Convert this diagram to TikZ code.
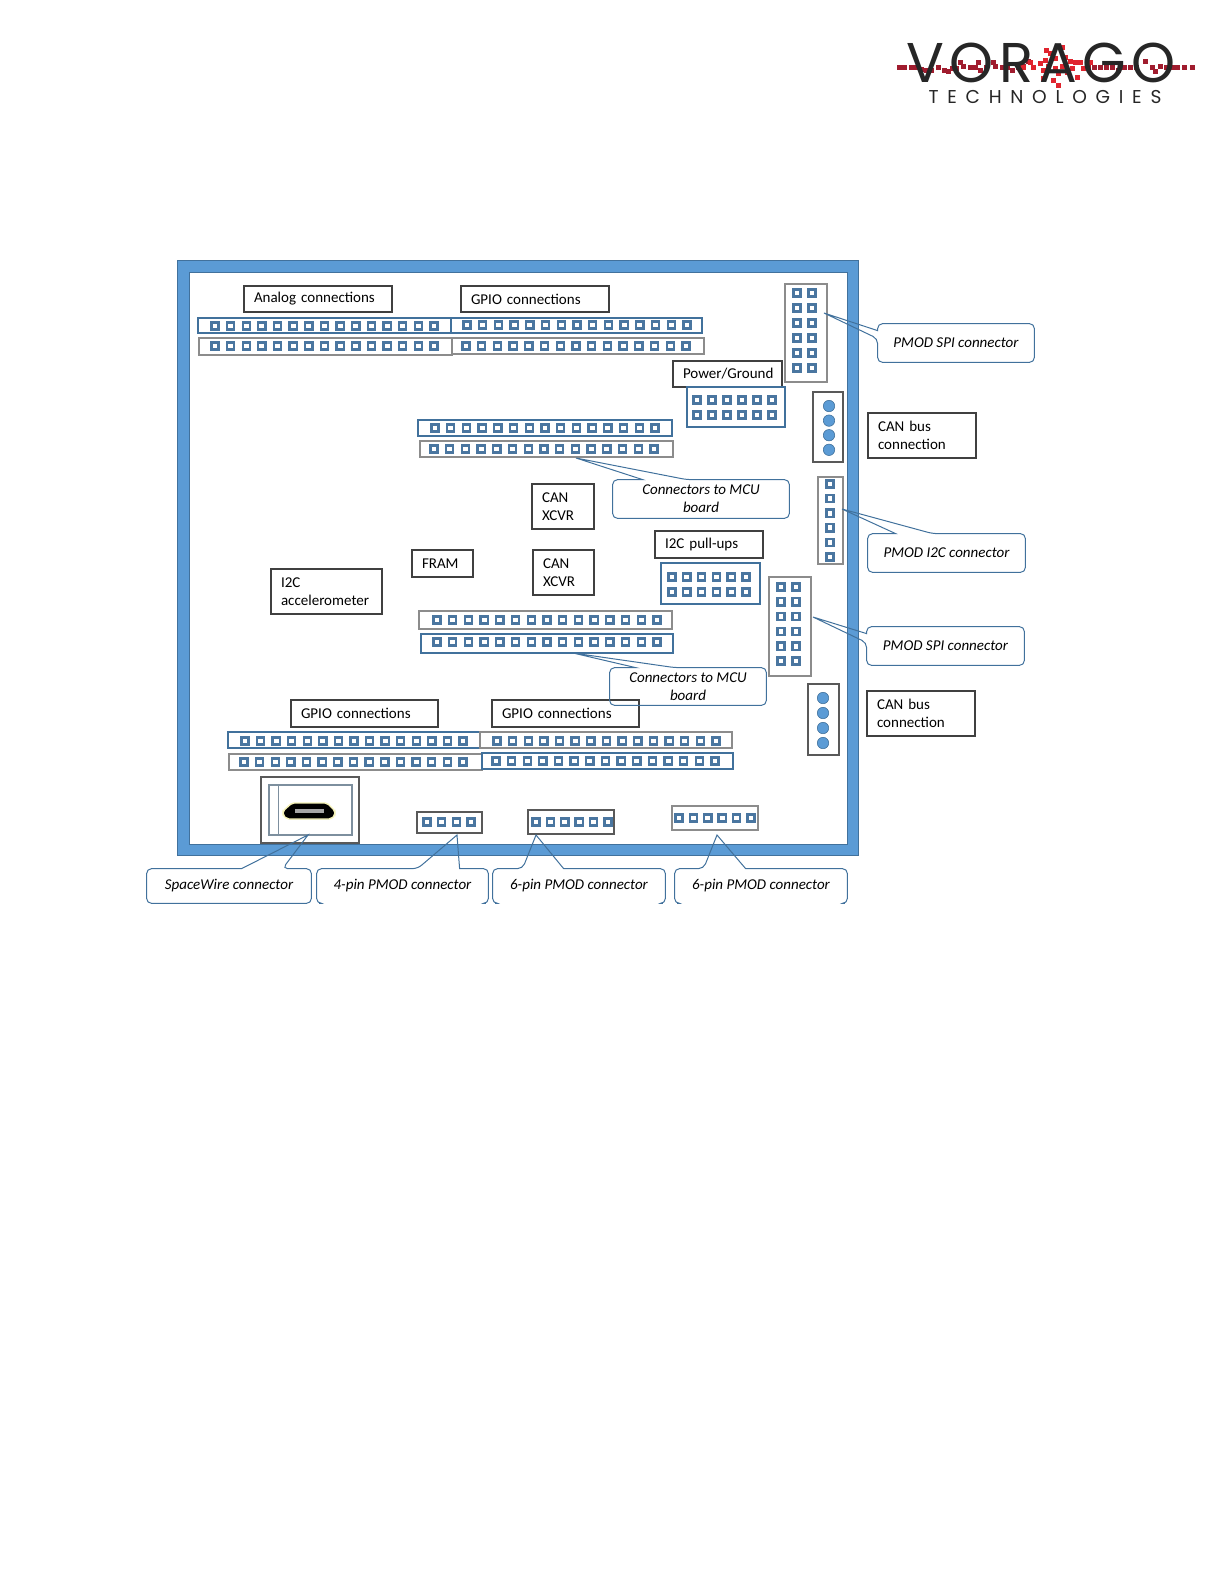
\documentclass[tikz,border=0pt]{standalone}
\usepackage{fontspec}
\setmainfont{Carlito}
\newfontfamily\logofont[LetterSpace=10]{Poppins}
\newfontfamily\logosub[LetterSpace=47]{Poppins}
\usetikzlibrary{positioning,fit,calc}
\definecolor{boardblue}{HTML}{5B9BD5}
\definecolor{edgeblue}{HTML}{41719C}
\definecolor{pinblue}{HTML}{4A76A0}
\definecolor{logodark}{HTML}{A01C2E}
\definecolor{logored}{HTML}{E0242E}
\tikzset{lab/.style 2 args={draw=black!75,line width=.6bp,inner sep=0pt,align=left,font=\fontsize{7.5bp}{8.9bp}\selectfont,minimum width=#1*.5bp,minimum height=#2*.5bp,text width={\dimexpr #1bp/2-10bp\relax}},
 txt/.style 2 args={inner sep=0pt,align=center,font=\fontsize{7.5bp}{8.9bp}\selectfont\itshape,minimum width=#1*.5bp,minimum height=#2*.5bp},
 strip/.style={draw=edgeblue,line width=.6bp,inner sep=0pt},stripg/.style={draw=black!45,line width=.7bp,inner sep=0pt},
 hdr/.style={draw=black!65,line width=.6bp,inner sep=0pt},
 pin/.style={draw=pinblue,fill=white,line width=1.15bp,inner sep=0pt,minimum size=3.6bp},
 dot/.style={circle,draw=edgeblue,fill=boardblue,line width=.3bp,inner sep=0pt,minimum size=5.7bp},
 lead/.style={draw=edgeblue,line width=.5bp}}
\newcommand{\pinrow}[5]{\foreach \i in {1,...,#4}{\node[pin] (#5\i) at ({#1+(\i-1)*(#2-#1)/(#4-1)},#3) {};}}
\newcommand{\calltop}[4]{\draw[lead] (#2) -- ($(#1.north west)+(#3,0)$) [rounded corners=2.5bp] -| (#1.west) |- (#1.south) -| (#1.east) |- ($(#1.north west)+(#4,0)$) [sharp corners] -- cycle;}
\newcommand{\callleft}[4]{\draw[lead] (#2) -- ($(#1.north west)+(0,#3)$) [rounded corners=2.5bp] |- (#1.north) -| (#1.east) |- (#1.south) -| ($(#1.north west)+(0,#4)$) [sharp corners] -- cycle;}
\newcommand{\callopen}[4]{\draw[lead,rounded corners=2.5bp] ($(#1.south west)+(2.5,0)$) -| (#1.west) |- ($(#1.north west)+(#3,0)$) [sharp corners] -- (#2) -- ($(#1.north west)+(#4,0)$) [rounded corners=2.5bp] -| (#1.east) |- ($(#1.south east)+(-2.5,0)$);}
\begin{document}
\begin{tikzpicture}[x=.5bp,y=-.5bp]
\useasboundingbox (0,0) rectangle (1224,1584);
% logo
\foreach \x/\y in {899/67,904/67,911/67,915/67,921/69,926/70,931/70,938/67,944/70,948/71,952/68,956/68,960/62,963/66,970/67,975/67,978/62,980/70,986/67,993/62,995/66,1002/67,1007/67,1012/70,1018/67,1023/66,1028/61,1088/67,1094/67,1100/67,1106/67,1112/67,1118/70,1124/67,1130/67,1136/67,1145/61,1152/67,1155/71,1160/66,1166/67,1172/67,1177/67,1184/67,1192/67}
 \fill[logodark] (\x-2.5,\y-2.5) rectangle (\x+2.5,\y+2.5);
\foreach \x/\y in {1046/50,1050/53,1055/58,1062/47,1065/57,1070/61,1075/62,1080/62,1090/62,1045/60,1040/63,1030/62,1023/67,1033/67,1043/70,1043/78,1053/80,1058/85,1058/73,1067/72,1077/77,1072/68,1083/68,1048/66,1055/68,1062/66}
 \fill[logored] (\x-2.5,\y-2.5) rectangle (\x+2.5,\y+2.5);
\node[inner sep=0pt,font=\fontsize{28bp}{28bp}\logofont,text=black!85] (vorago) at (1041,63) {VORAGO};
\node[inner sep=0pt,font=\fontsize{9.3bp}{9.3bp}\logosub,text=black!85] (tech) at (1045,97) {TECHNOLOGIES};
% board
\path[draw=edgeblue,fill=boardblue,even odd rule,line width=.4bp] (177,260) rectangle (858,855) (189,272) rectangle (847,844);
% labels
\node[lab={148}{26}] (analog) at (318,299) {Analog connections};
\node[lab={148}{26}] (gpioA) at (535,299) {GPIO connections};
\node[lab={109}{26}] (power) at (727.5,374) {Power/Ground};
\node[lab={108}{45}] (canA) at (922,435.5) {CAN bus\\connection};
\node[lab={62}{45}] (xcvrA) at (563,506.5) {CAN\\XCVR};
\node[lab={61}{45}] (xcvrB) at (563.5,572.5) {CAN\\XCVR};
\node[lab={61}{27}] (fram) at (442.5,563.5) {FRAM};
\node[lab={108}{27}] (pull) at (709,544.5) {I2C pull-ups};
\node[lab={111}{45}] (accel) at (326.5,591.5) {I2C\\accelerometer};
\node[lab={108}{45}] (canB) at (921,713.5) {CAN bus\\connection};
\node[lab={147}{27}] (gpioB) at (364.5,713.5) {GPIO connections};
\node[lab={147}{27}] (gpioC) at (565.5,713.5) {GPIO connections};
% long strips
\node[strip,fit={(198,318)(451,333)}] (s1) {};\node[stripg,fit={(199,338)(452,355)}] (s2) {};
\node[strip,fit={(451,318)(702,333)}] (s3) {};\node[stripg,fit={(452,338)(704,354)}] (s4) {};
\node[strip,fit={(418,420)(672,436)}] (s5) {};\node[stripg,fit={(420,441)(673,457)}] (s6) {};
\node[stripg,fit={(419,611)(672,629)}] (s7) {};\node[strip,fit={(421,634)(673,653)}] (s8) {};
\node[strip,fit={(228,732)(480,748)}] (s9) {};\node[stripg,fit={(229,754)(482,770)}] (s10) {};
\node[stripg,fit={(480,732)(732,748)}] (s11) {};\node[strip,fit={(482,753)(733,769)}] (s12) {};
\pinrow{215}{434}{326}{15}{a}\pinrow{215}{434}{346}{15}{b}
\pinrow{467}{687}{325}{15}{c}\pinrow{466}{686}{346}{15}{d}
\pinrow{435}{655}{428}{15}{e}\pinrow{434}{654}{449}{15}{f}
\pinrow{437}{657}{620}{15}{g}\pinrow{437}{657}{642}{15}{h}
\pinrow{245}{463}{741}{15}{i}\pinrow{244}{463}{762}{15}{j}
\pinrow{497}{716}{741}{15}{k}\pinrow{496}{715}{761}{15}{l}
% headers
\node[strip,fit={(687,387)(785,427)}] (hpower) {};\pinrow{697}{772}{400}{6}{m}\pinrow{697}{772}{415}{6}{n}
\node[strip,fit={(661,563)(760,604)}] (hpull) {};\pinrow{672}{746}{577}{6}{o}\pinrow{672}{746}{592}{6}{p}
\node[stripg,fit={(785,284)(827,382)}] (hspiA) {};
\foreach \j/\cx in {1/797,2/812}{\foreach \i in {1,...,6}{\node[pin] (q\j\i) at (\cx,{293+(\i-1)*15}) {};}}
\node[stripg,fit={(769,577)(811,676)}] (hspiB) {};
\foreach \j/\cx in {1/781,2/796}{\foreach \i in {1,...,6}{\node[pin] (r\j\i) at (\cx,{587+(\i-1)*14.8}) {};}}
\node[stripg,fit={(818,477)(843,564)}] (hi2c) {};
\foreach \i in {1,...,6}{\node[pin] (t\i) at (830,{484+(\i-1)*14.6}) {};}
\node[hdr,fit={(813,392)(843,462)}] (dotsA) {};
\foreach \i in {1,...,4}{\node[dot] (u\i) at (829,{406+(\i-1)*14.6}) {};}
\node[hdr,fit={(808,684)(839,755)}] (dotsB) {};
\foreach \i in {1,...,4}{\node[dot] (v\i) at (823,{698+(\i-1)*15}) {};}
\node[hdr,fit={(417,812)(482,833)}] (hfour) {};\pinrow{427}{471}{822}{4}{w}
\node[hdr,fit={(528,810)(614,834)}] (hsixA) {};\pinrow{536}{608}{822}{6}{x}
\node[stripg,fit={(672,806)(758,830)}] (hsixB) {};\pinrow{679}{751}{818}{6}{y}
% usb socket
\node[hdr,fit={(261,777)(359,843)}] (usbo) {};
\node[draw=black!40!edgeblue!60,line width=.6bp,inner sep=0pt,fit={(269,785)(352,835)}] (usbi) {};
\draw[draw=black!40!edgeblue!60,line width=.4bp] (278,785) -- (278,835);
\draw[fill=black,draw=black!15!yellow!30!white,line width=.7bp,rounded corners=1bp] (292,803) -- (327,803) -- (335,811) -- (335,815) -- (331,819) -- (287,819) -- (283,815) -- (283,811) -- cycle;
\fill[black!35] (295,809) rectangle (324,813);
% callouts
\node[txt={156}{38}] (spiA) at (956,343) {PMOD SPI connector};\coordinate (spiAt) at (824,313);\callleft{spiA}{spiAt}{7}{15}
\node[txt={157}{38}] (i2c) at (946.5,553) {PMOD I2C connector};\coordinate (i2ct) at (842,509);\calltop{i2c}{i2ct}{28}{65}
\node[txt={157}{38}] (spiB) at (945.5,646) {PMOD SPI connector};\coordinate (spiBt) at (813,617);\callleft{spiB}{spiBt}{7}{16}
\node[txt={176}{38}] (mcuA) at (701,499) {Connectors to MCU\\board};\coordinate (mcuAt) at (576,458);\calltop{mcuA}{mcuAt}{30}{74}
\node[txt={156}{37}] (mcuB) at (688,686.5) {Connectors to MCU\\board};\coordinate (mcuBt) at (573,653);\calltop{mcuB}{mcuBt}{26}{65}
\node[txt={164}{34}] (sw) at (229,886) {SpaceWire connector};\coordinate (swt) at (308,835);\calltop{sw}{swt}{95}{136}
\node[txt={171}{34}] (four) at (402.5,886) {4-pin PMOD connector};\coordinate (fourt) at (457,835);\callopen{four}{fourt}{101}{143}
\node[txt={172}{34}] (sixA) at (579,886) {6-pin PMOD connector};\coordinate (sixAt) at (536,835);\callopen{sixA}{sixAt}{30}{71}
\node[txt={172}{34}] (sixB) at (761,886) {6-pin PMOD connector};\coordinate (sixBt) at (717,835);\callopen{sixB}{sixBt}{29}{71}
\end{tikzpicture}
\end{document}
